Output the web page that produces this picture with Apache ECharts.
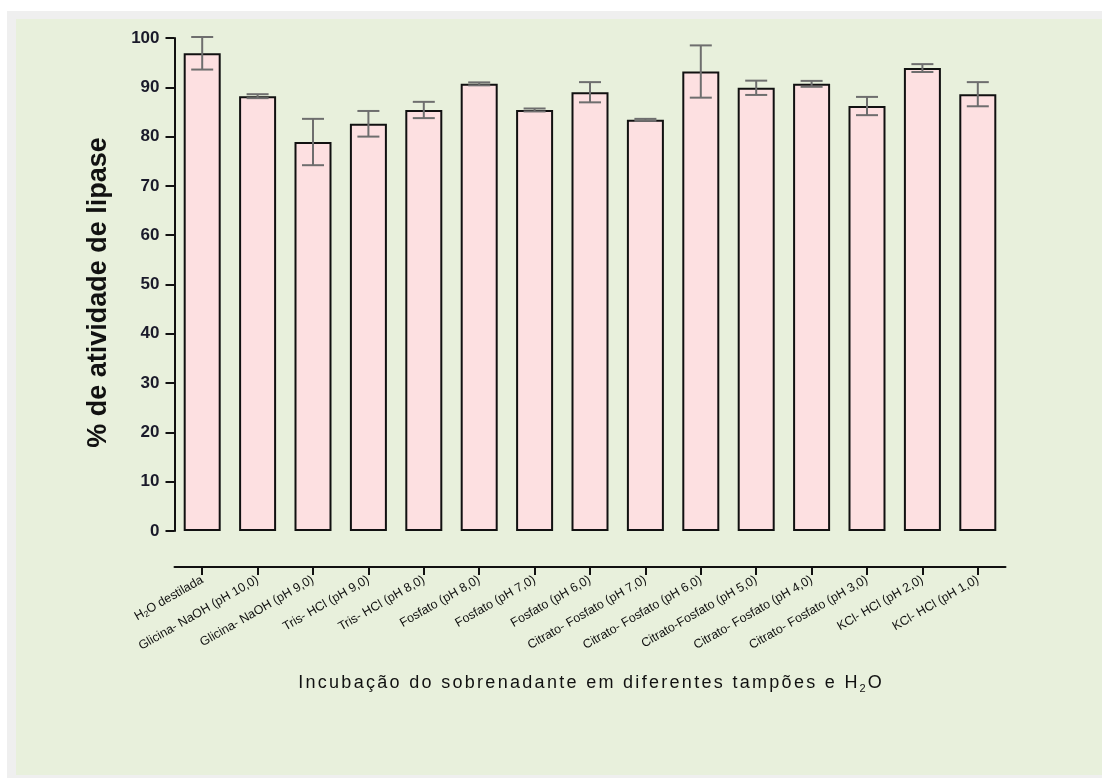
<!DOCTYPE html>
<html>
<head>
<meta charset="utf-8">
<script src="https://cdn.jsdelivr.net/npm/echarts@6/dist/echarts.min.js"></script>
<style>
  html, body { margin: 0; padding: 0; background: #ffffff; }
  #chart { width: 1102px; height: 778px; }
</style>
</head>
<body>
<div id="chart"></div>
<script>
// Buffers / incubation conditions
const categories = [
  'H{sub|2}O destilada',
  'Glicina- NaOH (pH 10,0)',
  'Glicina- NaOH (pH 9,0)',
  'Tris- HCl (pH 9,0)',
  'Tris- HCl (pH 8,0)',
  'Fosfato (pH 8,0)',
  'Fosfato (pH 7,0)',
  'Fosfato (pH 6,0)',
  'Citrato- Fosfato (pH 7,0)',
  'Citrato- Fosfato (pH 6,0)',
  'Citrato-Fosfato (pH 5,0)',
  'Citrato- Fosfato (pH 4,0)',
  'Citrato- Fosfato (pH 3,0)',
  'KCl- HCl (pH 2,0)',
  'KCl- HCl (pH 1,0)'
];

// Mean residual lipase activity (%)
const activity = [96.9, 88.2, 78.9, 82.6, 85.4, 90.7, 85.4, 89.0, 83.4, 93.2, 89.9, 90.7, 86.2, 93.9, 88.6];

// Standard deviation of each mean
const deviation = [3.3, 0.4, 4.7, 2.6, 1.65, 0.3, 0.3, 2.05, 0.2, 5.3, 1.45, 0.6, 1.85, 0.8, 2.45];

const yTicks = { min: 0, max: 100, interval: 10 };

const xTitle = 'Incubação do sobrenadante em diferentes tampões e H';
const xTitleSub = '2';
const xTitleTail = 'O';

const errorData = activity.map((v, i) => [i, v - deviation[i], v + deviation[i]]);

// Spread the axis title out a little: one rich token per character
function spaced(text) {
  return Array.from(text).map(c => '{t|' + c + '}').join('');
}

const chart = echarts.init(document.getElementById('chart'), null, { renderer: 'canvas' });

const labelFont = 'Arial, "Liberation Sans", sans-serif';
const ink = '#111111';

chart.setOption({
  animation: false,
  backgroundColor: '#ffffff',
  graphic: [
    { type: 'rect', z: -10, shape: { x: 7, y: 11, width: 1095, height: 767 }, style: { fill: '#efefef' }, silent: true },
    { type: 'rect', z: -9, shape: { x: 16, y: 19, width: 1086, height: 756 }, style: { fill: '#e8f0dc' }, silent: true }
  ],
  grid: { left: 174.5, right: 96.5, top: 38, bottom: 247, containLabel: false },
  xAxis: {
    type: 'category',
    data: categories,
    offset: 36,
    name: spaced(xTitle) + '{sub|' + xTitleSub + '}' + spaced(xTitleTail),
    nameLocation: 'middle',
    nameGap: 105,
    nameTextStyle: {
      fontFamily: labelFont, fontSize: 18, color: ink,
      rich: {
        t: { fontFamily: labelFont, fontSize: 18, color: ink, padding: [0, 1.15, 0, 1.15] },
        sub: { fontSize: 11, verticalAlign: 'bottom', padding: [11, 1, 0, 1], fontFamily: labelFont, color: ink }
      }
    },
    axisLine: { onZero: false, lineStyle: { color: ink, width: 2 } },
    axisTick: { show: true, alignWithLabel: true, length: 8, lineStyle: { color: ink, width: 2 } },
    axisLabel: {
      interval: 0,
      rotate: 30,
      margin: 12,
      fontFamily: labelFont,
      fontSize: 12.5,
      color: ink,
      rich: { sub: { fontSize: 8.5, verticalAlign: 'bottom', padding: [6, 0, 0, 0], fontFamily: labelFont, color: ink } }
    },
    splitLine: { show: false }
  },
  yAxis: {
    type: 'value',
    min: yTicks.min,
    max: yTicks.max,
    interval: yTicks.interval,
    name: '% de atividade de lipase',
    nameLocation: 'middle',
    nameRotate: 90,
    nameGap: 62,
    nameTextStyle: { fontFamily: labelFont, fontSize: 27, fontWeight: 'bold', color: ink, padding: [0, 16, 0, 0] },
    axisLine: { show: true, lineStyle: { color: ink, width: 2 } },
    axisTick: { show: true, length: 9, lineStyle: { color: ink, width: 2 } },
    axisLabel: { fontFamily: labelFont, fontSize: 17, fontWeight: 'bold', color: '#1a1a2a', margin: 15 },
    splitLine: { show: false }
  },
  series: [
    {
      type: 'bar',
      data: activity,
      barWidth: 37,
      itemStyle: { color: '#fde0e1', borderColor: ink, borderWidth: 2 },
      z: 2
    },
    {
      type: 'custom',
      data: errorData,
      z: 3,
      renderItem: function (params, api) {
        const x = api.value(0);
        const lo = api.coord([x, api.value(1)]);
        const hi = api.coord([x, api.value(2)]);
        const half = 11;
        const style = { stroke: '#6e6e6e', lineWidth: 2 };
        return {
          type: 'group',
          children: [
            { type: 'line', shape: { x1: hi[0], y1: hi[1], x2: lo[0], y2: lo[1] }, style: style },
            { type: 'line', shape: { x1: hi[0] - half, y1: hi[1], x2: hi[0] + half, y2: hi[1] }, style: style },
            { type: 'line', shape: { x1: lo[0] - half, y1: lo[1], x2: lo[0] + half, y2: lo[1] }, style: style }
          ]
        };
      }
    }
  ]
});
</script>
</body>
</html>
